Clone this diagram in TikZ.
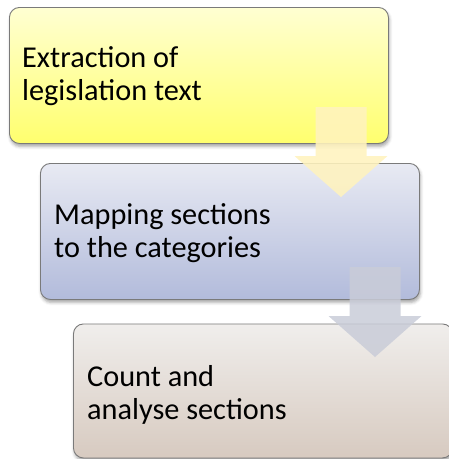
\documentclass[tikz,border=0pt]{standalone}
\usepackage{fontspec}
\setmainfont{Carlito}
\usetikzlibrary{shadows.blur}
\definecolor{stepA1}{HTML}{FFFFD2}
\definecolor{stepA2}{HTML}{FFFF6E}
\definecolor{stepB1}{HTML}{E8EAF3}
\definecolor{stepB2}{HTML}{B2BBDB}
\definecolor{stepC1}{HTML}{F0EEEC}
\definecolor{stepC2}{HTML}{D7CAC0}
\definecolor{edgegrey}{HTML}{7A7A7A}
\definecolor{arrowA}{HTML}{FFF3BE}
\definecolor{arrowB}{HTML}{C9CCD8}
\tikzset{
  stepbox/.style={draw=edgegrey, line width=0.9pt, rounded corners=10pt,
    minimum width=379pt, minimum height=136pt, anchor=north west,
    inner sep=0pt,
    blur shadow={shadow xshift=1pt, shadow yshift=-3pt,
      shadow blur radius=3pt, shadow opacity=35}},
  steptext/.style={anchor=base west, align=left, inner sep=0pt,
    font=\fontsize{30.3}{33}\selectfont},
  downarrow/.pic={\fill (-25.5,0) -- (25.5,0) -- (25.5,49) -- (46.5,49)
      -- (0,90) -- (-46.5,49) -- (-25.5,49) -- cycle;}
}
\begin{document}
\begin{tikzpicture}[x=1pt, y=-1pt]
\useasboundingbox (0,0) rectangle (449,459);
% the three stages
\node[stepbox, top color=stepA1, bottom color=stepA2] (s1) at (9,7) {};
\node[stepbox, top color=stepB1, bottom color=stepB2] (s2) at (40,163) {};
\node[stepbox, top color=stepC1, bottom color=stepC2, minimum height=134pt] (s3) at (73,323.5) {};
% labels (anchored at the baseline of their last line)
\node[steptext] (t1) at (22,100) {Extraction of\\legislation text};
\node[steptext] (t2) at (54,257) {Mapping sections\\to the categories};
\node[steptext] (t3) at (87,419) {Count and\\analyse sections};
% block arrows between the stages
\coordinate (a1) at (341,107);
\coordinate (a2) at (375,267);
\pic[fill=arrowA, fill opacity=0.88] at (a1) {downarrow};
\pic[fill=arrowB, fill opacity=0.85] at (a2) {downarrow};
\end{tikzpicture}
\end{document}
